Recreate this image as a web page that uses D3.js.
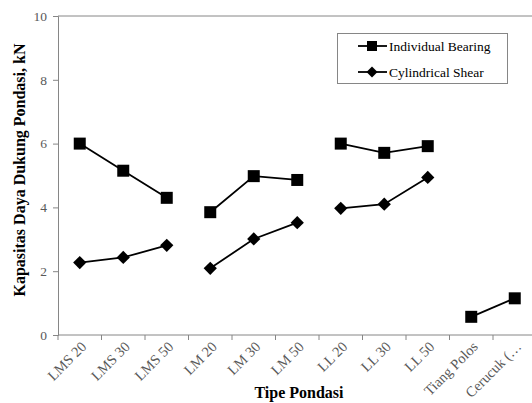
<!DOCTYPE html>
<html>
<head>
<meta charset="utf-8">
<script src="https://cdn.jsdelivr.net/npm/d3@7"></script>
<style>
  html, body { margin: 0; padding: 0; background: #fff; }
  svg { display: block; }
</style>
</head>
<body>
<svg id="chart" width="532" height="403"></svg>
<script>
// Foundation types on the horizontal axis
const categories = ["LMS 20", "LMS 30", "LMS 50", "LM 20", "LM 30", "LM 50",
                    "LL 20", "LL 30", "LL 50", "Tiang Polos", "Cerucuk (…"];
// Group of each foundation type; lines only join points of the same group
const groups = ["LMS", "LMS", "LMS", "LM", "LM", "LM", "LL", "LL", "LL", "Ref", "Ref"];
// Bearing capacity, kN
const individualBearing = [6.0, 5.15, 4.3, 3.85, 4.98, 4.86, 6.0, 5.71, 5.92, 0.57, 1.15];
const cylindricalShear  = [2.27, 2.43, 2.81, 2.09, 3.01, 3.52, 3.97, 4.1, 4.94, null, null];
const yTicks = [0, 2, 4, 6, 8, 10];
const seriesNames = ["Individual Bearing", "Cylindrical Shear"];

const SERIF = "'Liberation Serif', 'Times New Roman', serif";
const svg = d3.select("#chart");
const margin = { left: 58, top: 16, bottom: 68 };
const plotW = 478.5;               // plot runs past the right edge of the canvas
const plotH = 403 - margin.top - margin.bottom;

const x = d3.scaleBand().domain(categories).range([margin.left, margin.left + plotW]);
const y = d3.scaleLinear().domain([0, 10]).range([margin.top + plotH, margin.top]);

const axisGrey = "#868686";
const textGrey = "#595959";

// Top border of the plot area
svg.append("line")
  .attr("x1", margin.left).attr("x2", margin.left + plotW)
  .attr("y1", y(10)).attr("y2", y(10))
  .attr("stroke", axisGrey).attr("stroke-width", 1);

// Y axis
const yAxis = svg.append("g")
  .attr("transform", `translate(${margin.left},0)`)
  .call(d3.axisLeft(y).tickValues(yTicks).tickSize(5).tickPadding(6).tickFormat(d3.format("d")));
yAxis.select(".domain").attr("stroke", axisGrey);
yAxis.selectAll(".tick line").attr("stroke", axisGrey);
yAxis.selectAll(".tick text").attr("fill", textGrey)
  .style("font-family", SERIF).style("font-size", "13.5px");

// X axis: ticks sit on category boundaries
const xAxisG = svg.append("g").attr("transform", `translate(0,${y(0)})`);
xAxisG.append("line")
  .attr("x1", margin.left).attr("x2", margin.left + plotW)
  .attr("stroke", axisGrey);
const boundaries = d3.range(categories.length + 1).map(i => margin.left + i * x.step());
xAxisG.selectAll("line.tk").data(boundaries).join("line")
  .attr("class", "tk")
  .attr("x1", d => d).attr("x2", d => d)
  .attr("y1", 0).attr("y2", 5)
  .attr("stroke", axisGrey);
xAxisG.selectAll("text").data(categories).join("text")
  .attr("transform", d => `translate(${x(d) + x.bandwidth() / 2 + 4},9) rotate(-45)`)
  .attr("text-anchor", "end")
  .attr("dy", "0.35em")
  .attr("fill", textGrey)
  .style("font-family", SERIF).style("font-size", "14.5px")
  .text(d => d);

// Axis titles
svg.append("text")
  .attr("x", 299).attr("y", 398)
  .attr("text-anchor", "middle")
  .attr("font-weight", "bold").attr("fill", "#000")
  .style("font-family", SERIF).style("font-size", "16px")
  .text("Tipe Pondasi");
svg.append("text")
  .attr("transform", "translate(25,170) rotate(-90)")
  .attr("text-anchor", "middle")
  .attr("font-weight", "bold").attr("fill", "#000")
  .style("font-family", SERIF).style("font-size", "16px")
  .text("Kapasitas Daya Dukung Pondasi, kN");

// Series drawing
const cx = d => x(d.cat) + x.bandwidth() / 2;
const line = d3.line().x(cx).y(d => y(d.v));
const squareSym = d3.symbol().type(d3.symbolSquare).size(144)();
const diamondSym = d3.symbol().type(d3.symbolSquare).size(88)(); // square turned 45°

function drawSeries(values, sym, rot) {
  const pts = categories.map((c, i) => ({ cat: c, grp: groups[i], v: values[i] }))
    .filter(d => d.v !== null);
  const byGroup = d3.groups(pts, d => d.grp);
  const g = svg.append("g");
  g.selectAll("path.ln").data(byGroup).join("path")
    .attr("class", "ln")
    .attr("d", d => line(d[1]))
    .attr("fill", "none").attr("stroke", "#000").attr("stroke-width", 1.8);
  g.selectAll("path.mk").data(pts).join("path")
    .attr("class", "mk")
    .attr("transform", d => `translate(${cx(d)},${y(d.v)}) rotate(${rot})`)
    .attr("d", sym)
    .attr("fill", "#000");
}
drawSeries(individualBearing, squareSym, 0);
drawSeries(cylindricalShear, diamondSym, 45);

// Legend
const legend = svg.append("g");
legend.append("rect")
  .attr("x", 337.5).attr("y", 33.5).attr("width", 170).attr("height", 50)
  .attr("fill", "#fff").attr("stroke", axisGrey);
const legSymbols = [
  { d: d3.symbol().type(d3.symbolSquare).size(100)(), rot: 0 },
  { d: d3.symbol().type(d3.symbolSquare).size(60)(), rot: 45 }
];
seriesNames.forEach((name, i) => {
  const ly = 46 + i * 26;
  legend.append("line")
    .attr("x1", 358).attr("x2", 387).attr("y1", ly).attr("y2", ly)
    .attr("stroke", "#000").attr("stroke-width", 1.8);
  legend.append("path")
    .attr("transform", `translate(372,${ly}) rotate(${legSymbols[i].rot})`)
    .attr("d", legSymbols[i].d).attr("fill", "#000");
  legend.append("text")
    .attr("x", 389).attr("y", ly).attr("dy", "0.35em")
    .attr("fill", "#000")
    .style("font-family", SERIF).style("font-size", "13.5px")
    .text(name);
});
</script>
</body>
</html>
